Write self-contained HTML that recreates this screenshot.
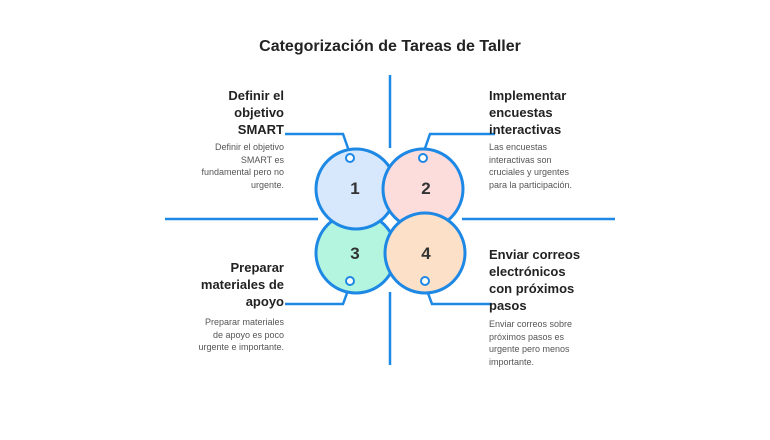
<!DOCTYPE html>
<html><head><meta charset="utf-8"><style>
body{margin:0;width:770px;height:440px;background:#fff;position:relative;font-family:"Liberation Sans",sans-serif;overflow:hidden}
.t{position:absolute;font-weight:bold;color:#222;font-size:13px;line-height:17px}
.d{position:absolute;color:#555;font-size:9px;line-height:12.5px}
.r{text-align:right}
</style></head><body>
<div class="t" style="left:0;width:780px;top:38px;text-align:center;font-size:16px">Categorización de Tareas de Taller</div>
<svg width="770" height="440" style="position:absolute;left:0;top:0">
<g stroke="#1e88e5" stroke-width="2.5" fill="none">
<line x1="390" y1="75" x2="390" y2="148"/>
<line x1="390" y1="292" x2="390" y2="365"/>
<line x1="165" y1="219" x2="318" y2="219"/>
<line x1="462" y1="219" x2="615" y2="219"/>
<polyline points="285,134 343,134 350,154"/>
<polyline points="495,134 430,134 423,154"/>
<polyline points="285,304 343,304 350,285"/>
<polyline points="492,304 432,304 425,285"/>
</g>
<g stroke="#1e88e5" stroke-width="3">
<circle cx="356" cy="253" r="40" fill="#b3f5df"/>
<circle cx="356" cy="189" r="40" fill="#d8e8fc"/>
<circle cx="423" cy="189" r="40" fill="#fddcdc"/>
<circle cx="425" cy="253" r="40" fill="#fde0c8"/>
</g>
<g fill="#fff" stroke="#1e88e5" stroke-width="2">
<circle cx="350" cy="158" r="4"/><circle cx="423" cy="158" r="4"/>
<circle cx="350" cy="281" r="4"/><circle cx="425" cy="281" r="4"/>
</g>
<g font-family="Liberation Sans" font-weight="bold" font-size="17" fill="#333" text-anchor="middle">
<text x="355" y="194">1</text><text x="426" y="194">2</text>
<text x="355" y="259">3</text><text x="426" y="259">4</text>
</g>
</svg>
<div class="t r" style="left:160px;width:124px;top:87px">Definir el<br>objetivo<br>SMART</div>
<div class="d r" style="left:160px;width:124px;top:141px">Definir el objetivo<br>SMART es<br>fundamental pero no<br>urgente.</div>
<div class="t" style="left:489px;top:87px">Implementar<br>encuestas<br>interactivas</div>
<div class="d" style="left:489px;top:141px">Las encuestas<br>interactivas son<br>cruciales y urgentes<br>para la participación.</div>
<div class="t r" style="left:160px;width:124px;top:259px">Preparar<br>materiales de<br>apoyo</div>
<div class="d r" style="left:160px;width:124px;top:316px">Preparar materiales<br>de apoyo es poco<br>urgente e importante.</div>
<div class="t" style="left:489px;top:246px">Enviar correos<br>electrónicos<br>con próximos<br>pasos</div>
<div class="d" style="left:489px;top:318px">Enviar correos sobre<br>próximos pasos es<br>urgente pero menos<br>importante.</div>
</body></html>
